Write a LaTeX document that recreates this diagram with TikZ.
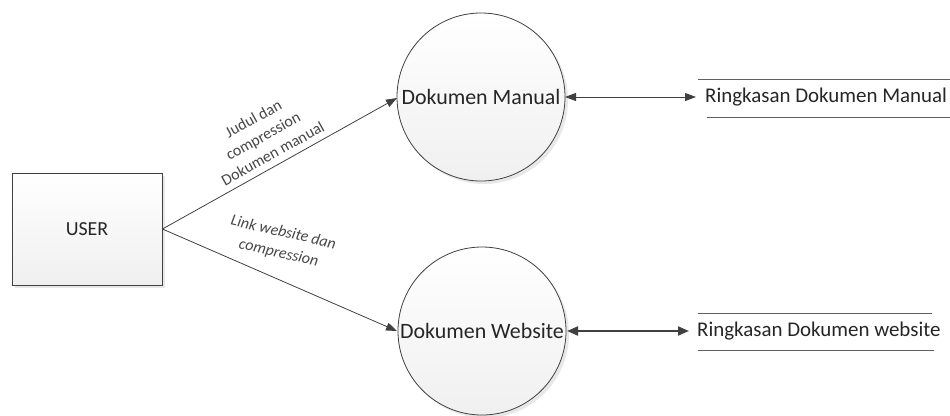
\documentclass[tikz,border=0pt]{standalone}
\usepackage{fontspec}
\setmainfont{Carlito}
\usetikzlibrary{arrows.meta,shadows}
\definecolor{edge}{HTML}{404040}
\definecolor{ink}{HTML}{262626}
\tikzset{
  procnode/.style={circle,draw=edge,line width=0.8bp,minimum size=168bp,inner sep=0pt,
    top color=white,bottom color=gray!12,text=ink,font=\fontsize{22}{26}\selectfont,
    drop shadow={opacity=0.18,shadow xshift=3bp,shadow yshift=-3bp}},
  entitynode/.style={rectangle,draw=edge,line width=0.9bp,minimum width=150bp,minimum height=112bp,
    top color=white,bottom color=gray!12,text=ink,font=\fontsize{20}{24}\selectfont,
    drop shadow={opacity=0.18,shadow xshift=3bp,shadow yshift=-3bp}},
  storetext/.style={text=ink,inner sep=0pt,font=\fontsize{21}{25}\selectfont},
  storeline/.style={draw=gray!75!black,line width=1bp},
  flow/.style={draw=edge,line width=0.8bp,-{Triangle[length=11bp,width=8bp]}},
  biflow/.style={draw=edge,line width=0.9bp,{Triangle[length=11bp,width=8bp]}-{Triangle[length=11bp,width=8bp]}},
  biflowbold/.style={draw=edge,line width=2bp,{Triangle[length=11bp,width=9bp]}-{Triangle[length=11bp,width=9bp]}},
  flowlabel/.style={text=ink!85,align=center,inner sep=1bp,fill=white,
    font=\fontsize{16}{20}\selectfont},
}
\begin{document}
\begin{tikzpicture}[x=1bp,y=-1bp]
  \useasboundingbox (0,0) rectangle (950,415);

  % external entity and processes
  \node[entitynode] (user) at (87,229) {USER};
  \node[procnode] (manual) at (481,97) {Dokumen Manual};
  \node[procnode] (website) at (482,331) {Dokumen Website};

  % data stores
  \node[storetext,anchor=west] (storeA) at (705,97) {Ringkasan Dokumen Manual};
  \node[storetext,anchor=west] (storeB) at (697,331) {Ringkasan Dokumen website};
  \coordinate (sAtl) at (698,79);  \coordinate (sAtr) at (950,79);
  \coordinate (sAbl) at (707,117); \coordinate (sAbr) at (950,117);
  \coordinate (sBtl) at (698,313); \coordinate (sBtr) at (932,313);
  \coordinate (sBbl) at (698,350); \coordinate (sBbr) at (934,350);
  \draw[storeline] (sAtl) -- (sAtr);
  \draw[storeline] (sAbl) -- (sAbr);
  \draw[storeline] (sBtl) -- (sBtr);
  \draw[storeline] (sBbl) -- (sBbr);

  % data flows
  \coordinate (uout) at (user.east);
  \coordinate (mIn) at (397,98);
  \coordinate (wIn) at (397,331);
  \coordinate (mOut) at (565,97);
  \coordinate (wOut) at (567,331);
  \coordinate (aIn) at (696,97);
  \coordinate (bIn) at (689,331);
  \draw[flow] (uout) -- (mIn);
  \draw[flow] (uout) -- (wIn);
  \draw[biflow] (mOut) -- (aIn);
  \draw[biflowbold] (wOut) -- (bIn);

  % flow labels
  \node[flowlabel,rotate=29] (labA) at (263,136) {Judul dan\\compression\\Dokumen manual};
  \node[flowlabel,rotate=-13,font=\fontsize{16}{21}\selectfont\itshape] (labB) at (281,243) {Link website dan\\compression};
\end{tikzpicture}
\end{document}
